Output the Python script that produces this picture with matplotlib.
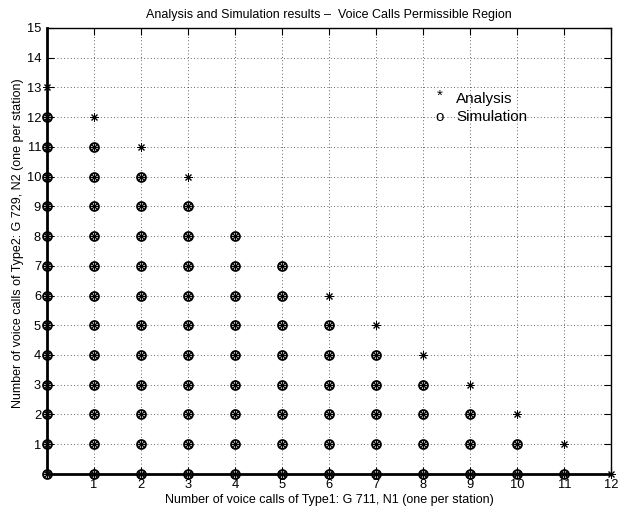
import matplotlib
matplotlib.use("Agg")
import matplotlib.pyplot as plt

plt.rcParams['font.family'] = ['Liberation Sans', 'DejaVu Sans']

# Data: largest permissible N2 for each N1
n1_values = [0, 1, 2, 3, 4, 5, 6, 7, 8, 9, 10, 11, 12]
analysis_max_n2 = [13, 12, 11, 10, 8, 7, 6, 5, 4, 3, 2, 1, 0]
simulation_max_n2 = [12, 11, 10, 9, 8, 7, 5, 4, 3, 2, 1, 0, None]

x_ticks = list(range(1, 13))
y_ticks = list(range(0, 16))
y_tick_labels = [''] + [str(v) for v in range(1, 16)]

title = "Analysis and Simulation results \u2013  Voice Calls Permissible Region"
xlabel = "Number of voice calls of Type1: G 711, N1 (one per station)"
ylabel = "Number of voice calls of Type2: G 729, N2 (one per station)"

ax_x, ax_y = [], []
for x, m in zip(n1_values, analysis_max_n2):
    if m is None:
        continue
    for y in range(0, m + 1):
        ax_x.append(x); ax_y.append(y)
sx, sy = [], []
for x, m in zip(n1_values, simulation_max_n2):
    if m is None:
        continue
    for y in range(0, m + 1):
        sx.append(x); sy.append(y)

fig = plt.figure(figsize=(6.22, 5.09), dpi=100)
ax = fig.add_axes([0.075, 0.069, 0.908, 0.876])

ax.plot(sx, sy, linestyle='none', marker='o', markersize=6.3, markerfacecolor='none',
        markeredgecolor='black', markeredgewidth=1.4, clip_on=False, zorder=3)
ax.plot(ax_x, ax_y, linestyle='none', marker=(8, 2, 0), markersize=5.8,
        markeredgecolor='black', markeredgewidth=0.7, clip_on=False, zorder=4)

ax.set_xlim(0, 12)
ax.set_ylim(0, 15)
ax.set_xticks(x_ticks)
ax.set_yticks(y_ticks)
ax.set_yticklabels(y_tick_labels)
ax.grid(True, linestyle=(0, (1, 3)), color='black', linewidth=0.6, alpha=0.8)
ax.tick_params(direction='in', length=5, width=0.8, top=True, right=True,
               labelsize=9.3, pad=4)
for s in ['left', 'bottom']:
    ax.spines[s].set_linewidth(2.0)
for s in ['top', 'right']:
    ax.spines[s].set_linewidth(1.0)

ax.set_title(title, fontsize=9, pad=7)
ax.set_xlabel(xlabel, fontsize=9, labelpad=1.5)
ax.set_ylabel(ylabel, fontsize=9)
ax.yaxis.set_label_coords(-0.040, 0.517)

ax.text(8.35, 12.72, "*", fontsize=11, ha='center', va='center')
ax.text(8.35, 12.0, "o", fontsize=11, ha='center', va='center')
ax.text(8.7, 12.6, "Analysis", fontsize=11, ha='left', va='center')
ax.text(8.7, 12.0, "Simulation", fontsize=11, ha='left', va='center')

fig.savefig("out.png", dpi=100)
